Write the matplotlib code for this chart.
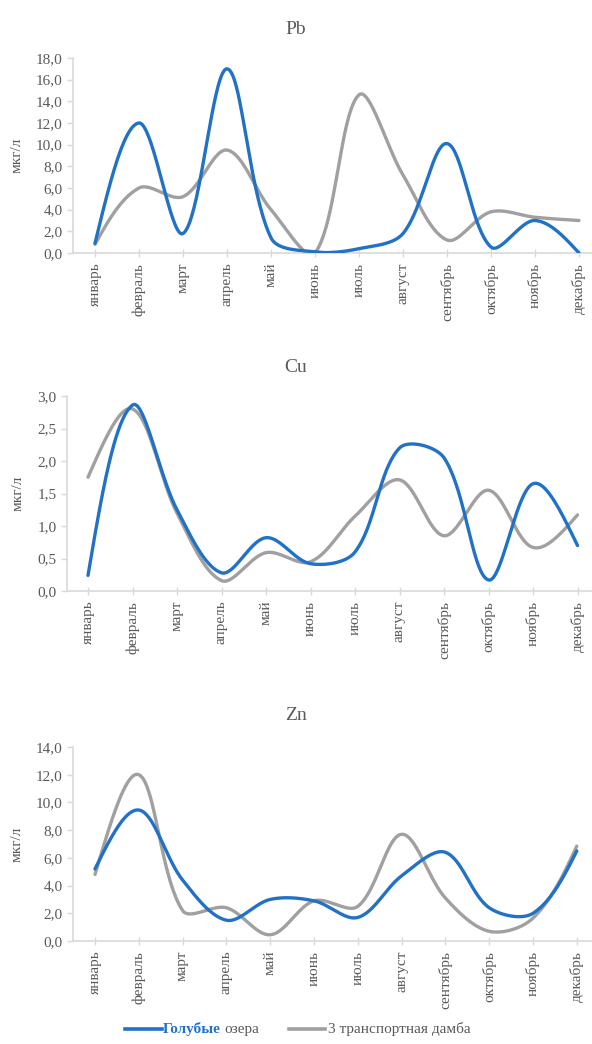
import matplotlib.pyplot as plt
import numpy as np
from matplotlib.lines import Line2D
from matplotlib.ticker import FuncFormatter

plt.rcParams['font.family'] = ['Liberation Serif', 'DejaVu Serif']

months = ['январь', 'февраль', 'март', 'апрель', 'май', 'июнь', 'июль',
          'август', 'сентябрь', 'октябрь', 'ноябрь', 'декабрь']

# Голубые озера / 3 транспортная дамба, мкг/л
pb_blue = [0.9, 12.0, 1.8, 17.0, 1.4, 0.1, 0.4, 1.8, 10.1, 0.55, 3.0, 0.0]
pb_gray = [0.8, 6.0, 5.2, 9.5, 4.0, 0.0, 14.6, 7.2, 1.2, 3.8, 3.3, 3.0]
cu_blue = [0.24, 2.86, 1.25, 0.28, 0.82, 0.42, 0.6, 2.2, 2.05, 0.17, 1.65, 0.7]
cu_gray = [1.75, 2.8, 1.2, 0.16, 0.59, 0.45, 1.15, 1.71, 0.85, 1.55, 0.67, 1.17]
zn_blue = [5.2, 9.45, 4.4, 1.5, 3.0, 2.9, 1.7, 4.7, 6.4, 2.4, 2.0, 6.5]
zn_gray = [4.8, 12.0, 2.2, 2.4, 0.45, 2.9, 2.5, 7.7, 3.1, 0.7, 1.65, 6.85]

blue = '#2171c7'
gray = '#a0a0a0'
txt = '#595959'
axc = '#d9d9d9'


def smooth(y, sx, sy, n=40):
    # Bezier curve through the points, control arms scaled by chord length
    # (worked out in pixel space, close to how Excel smooths a line)
    x = np.arange(len(y), dtype=float)
    P = np.column_stack([x * sx, np.asarray(y, float) * sy])
    m = len(P)
    d = np.linalg.norm(np.diff(P, axis=0), axis=1)
    cin = P.copy()
    cout = P.copy()
    for i in range(1, m - 1):
        T = P[i + 1] - P[i - 1]
        s = d[i - 1] + d[i]
        cout[i] = P[i] + T * d[i] / s / 3
        cin[i] = P[i] - T * d[i - 1] / s / 3
    cout[0] = P[0] + (cin[1] - P[0]) / 2 if m > 2 else P[0]
    cin[-1] = P[-1] + (cout[-2] - P[-1]) / 2 if m > 2 else P[-1]
    t = np.linspace(0, 1, n)[:, None]
    pts = []
    for i in range(m - 1):
        p1, c1, c2, p2 = P[i], cout[i], cin[i + 1], P[i + 1]
        pts.append((1 - t) ** 3 * p1 + 3 * (1 - t) ** 2 * t * c1 + 3 * (1 - t) * t ** 2 * c2 + t ** 3 * p2)
    pts = np.vstack(pts)
    return pts[:, 0] / sx, pts[:, 1] / sy


W, H = 592, 1044
fig = plt.figure(figsize=(W / 100, H / 100), dpi=100)

panels = [
    # title, blue, gray, ymax, ystep, left px, first cat px, spacing, y0 px, ytop px, title y
    ('Pb', pb_blue, pb_gray, 18, 2, 73, 95, 44.0, 253, 58, 30),
    ('Cu', cu_blue, cu_gray, 3.0, 0.5, 67, 88, 44.5, 591, 396, 368),
    ('Zn', zn_blue, zn_gray, 14, 2, 73, 95, 43.8, 941, 747, 716),
]

for title, yb, yg, ymax, ystep, lpx, c0, sp, y0, yt, ty in panels:
    ax = fig.add_axes([lpx / W, 1 - y0 / H, (W - lpx) / W, (y0 - yt) / H])
    sy = (y0 - yt) / ymax
    xb, sb = smooth(yb, sp, sy)
    xg, sg = smooth(yg, sp, sy)
    ax.plot(xg, sg, color=gray, lw=2.4, solid_capstyle='round', zorder=2)
    ax.plot(xb, sb, color=blue, lw=2.4, solid_capstyle='round', zorder=3)
    left = -(c0 - lpx) / sp
    ax.set_xlim(left, left + (W - lpx) / sp)
    ax.set_ylim(0, ymax)
    ax.set_yticks(np.arange(0, ymax + ystep / 2, ystep))
    ax.yaxis.set_major_formatter(FuncFormatter(lambda v, p: f'{v:.1f}'.replace('.', ',')))
    ax.set_xticks(range(len(months)))
    ax.set_xticklabels(months, rotation=90)
    for s in ['top', 'right']:
        ax.spines[s].set_visible(False)
    for s in ['left', 'bottom']:
        ax.spines[s].set_color(axc)
        ax.spines[s].set_linewidth(1.2)
    ax.tick_params(colors=axc, labelcolor=txt, labelsize=11, length=4, width=1)
    ax.tick_params(axis='x', direction='inout', length=6, pad=4)
    ax.set_ylabel('мкг/л', color=txt, fontsize=11, labelpad=9)
    ax.patch.set_visible(False)
    fig.text(0.5, 1 - ty / H, title, ha='center', va='center', color=txt, fontsize=14)

# legend drawn by hand
ly = 1 - 1029 / H
fig.add_artist(Line2D([125 / W, 162 / W], [ly, ly], color=blue, lw=2.6))
fig.text(163 / W, ly, 'Голубые', color=blue, fontsize=11, va='center', fontweight='bold')
fig.text(224 / W, ly, 'озера', color=txt, fontsize=11, va='center')
fig.add_artist(Line2D([289 / W, 325 / W], [ly, ly], color=gray, lw=2.6))
fig.text(328 / W, ly, '3 транспортная дамба', color=txt, fontsize=11, va='center')

fig.savefig('out.png', dpi=100)
